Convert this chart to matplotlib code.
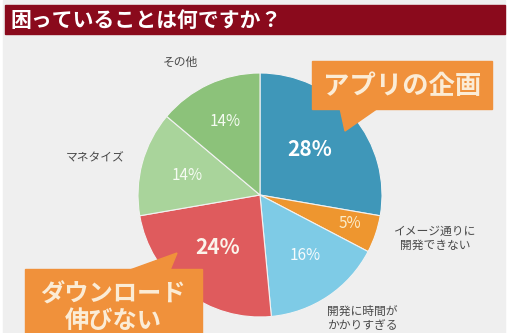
import matplotlib
matplotlib.use('Agg')
import matplotlib.pyplot as plt
from matplotlib.patches import Rectangle, Polygon

plt.rcParams['font.family'] = ['Noto Sans CJK JP', 'DejaVu Sans']

# Chart data
title = '困っていることは何ですか？'
labels = ['アプリの企画', 'イメージ通りに\n開発できない', '開発に時間が\nかかりすぎる',
          'ダウンロード\n伸びない', 'マネタイズ', 'その他']
values = [28, 5, 16, 24, 14, 14]
pct_labels = ['28%', '5%', '16%', '24%', '14%', '14%']
colors = ['#3f97b9', '#ee962f', '#7ecbe6', '#df5b5d', '#a9d49b', '#8cc27a']

W, H = 517, 333

def Y(y):
    # image pixel row -> axis coordinate
    return H - y

fig = plt.figure(figsize=(W / 100, H / 100), dpi=100, facecolor='white')
ax = fig.add_axes([0, 0, 1, 1])

# background panel
ax.add_patch(Rectangle((3, 0), 502, H, color='#efefef', zorder=0))
# title bar
ax.add_patch(Rectangle((5, Y(34)), 500, 29, color='#8a0a1c', zorder=1))
ax.text(11, Y(20), title, color='white', fontsize=15, fontweight='bold',
        va='center', ha='left', zorder=2)

# pie
cx, cy, r = 260, 195, 122
wedges, _ = ax.pie(values, colors=colors, startangle=90, counterclock=False,
                   center=(cx, Y(cy)), radius=r,
                   wedgeprops=dict(edgecolor='#f2f2f2', linewidth=0.8))

# percentage labels (positions in image pixels)
pct_pos = [(310, 150), (350, 224), (305, 256), (218, 247), (187, 175), (225, 121)]
pct_size = [15, 11, 11, 15, 11, 11]
pct_bold = ['bold', 'normal', 'normal', 'bold', 'normal', 'normal']
pct_col = ['white', '#fbecc8', '#f5fbfd', '#fbf3ea', '#f5fbf2', '#f5fbf2']
for (px, py), s, fs, fw, c in zip(pct_pos, pct_labels, pct_size, pct_bold, pct_col):
    ax.text(px, Y(py), s, fontsize=fs, fontweight=fw, color=c,
            ha='center', va='center', zorder=5)

# outside labels
lab_col = '#4a4a4a'
ax.text(180, Y(62), labels[5], fontsize=8.5, color=lab_col, ha='center', va='center')
ax.text(95, Y(158), labels[4], fontsize=8.5, color=lab_col, ha='center', va='center')
ax.text(435, Y(238), labels[1], fontsize=8.5, color=lab_col, ha='center', va='center',
        linespacing=1.1)
ax.text(327, Y(318), labels[2], fontsize=8.5, color=lab_col, ha='left', va='center',
        linespacing=1.1)

# callout 1
orange = '#f0913b'
ax.add_patch(Rectangle((312, Y(109)), 180, 48, color=orange, zorder=6))
ax.add_patch(Polygon([(340, Y(108)), (378, Y(108)), (345, Y(131))],
                     closed=True, color=orange, zorder=6))
ax.text(402, Y(86), labels[0], fontsize=19, fontweight='bold', color='#fbecd6',
        ha='center', va='center', zorder=7)

# callout 2
ax.add_patch(Rectangle((25, 0), 177, Y(269), color=orange, zorder=6))
ax.add_patch(Polygon([(130, Y(270)), (170, Y(270)), (177, Y(253))],
                     closed=True, color=orange, zorder=6))
ax.text(113, Y(308), labels[3], fontsize=17.5, fontweight='bold', color='#fbecd6',
        ha='center', va='center', linespacing=1.15, zorder=7)

ax.set_xlim(0, W)
ax.set_ylim(0, H)
ax.set_aspect('auto')
ax.axis('off')

fig.savefig('out.png', dpi=100, facecolor='white')
